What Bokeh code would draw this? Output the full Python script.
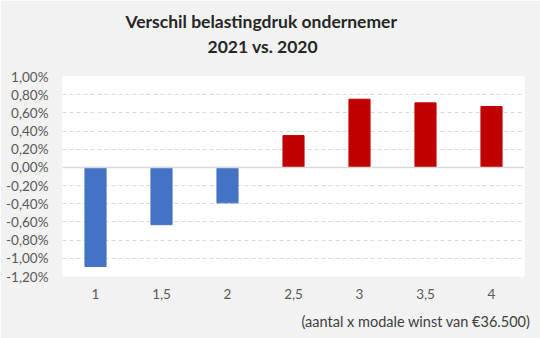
from bokeh.plotting import figure
from bokeh.models import FixedTicker, CustomJSTickFormatter, Title, ColumnDataSource, FactorRange, Range1d, Span
from bokeh.embed import file_html
from bokeh.resources import INLINE

categories = ["1", "1,5", "2", "2,5", "3", "3,5", "4"]
values = [-1.09, -0.63, -0.39, 0.35, 0.75, 0.71, 0.67]
y_ticks = [-1.2, -1.0, -0.8, -0.6, -0.4, -0.2, 0.0, 0.2, 0.4, 0.6, 0.8, 1.0]
title_lines = ["Verschil belastingdruk ondernemer", "2021 vs. 2020"]
footnote = "(aantal x modale winst van €36.500)"

BLUE = "#4472C4"
RED = "#C00000"
FONT = "Lato"

colors = [BLUE if v < 0 else RED for v in values]
src = ColumnDataSource(dict(x=categories, top=values, color=colors))

p = figure(width=540, height=338, output_backend="svg", toolbar_location=None,
           x_range=FactorRange(*categories, range_padding=0),
           y_range=Range1d(-1.2, 1.0),
           min_border_left=62, min_border_right=16, min_border_top=76, min_border_bottom=60)
p.background_fill_color = "white"
p.border_fill_color = "#F2F2F2"
p.outline_line_color = None

p.vbar(x="x", top="top", bottom=0, width=0.32, color="color", source=src)

# grid
p.xgrid.grid_line_color = None
p.ygrid.ticker = FixedTicker(ticks=y_ticks)
p.ygrid.grid_line_color = "#D9D9D9"
p.ygrid.grid_line_dash = "4 3"
p.ygrid.grid_line_width = 1
p.add_layout(Span(location=0, dimension="width", line_color="#D9D9D9", line_width=1.5))

# axes
p.yaxis.ticker = FixedTicker(ticks=y_ticks)
p.yaxis.formatter = CustomJSTickFormatter(code="return tick.toFixed(2).replace('.', ',') + '%';")
for ax in (p.xaxis[0], p.yaxis[0]):
    ax.axis_line_color = None
    ax.major_tick_line_color = None
    ax.minor_tick_line_color = None
    ax.major_label_text_font = FONT
    ax.major_label_text_font_size = "13.5px"
    ax.major_label_text_color = "#595959"
p.yaxis.major_label_standoff = 8
p.xaxis.major_label_standoff = 6

# titles (subtitle added first so it sits closest to the plot)
p.add_layout(Title(text=title_lines[1], align="left", offset=145, standoff=40,
                   text_font=FONT, text_font_style="bold", text_font_size="17.5px",
                   text_color="#262626"), "above")
p.add_layout(Title(text=title_lines[0], align="left", offset=63, standoff=-36,
                   text_font=FONT, text_font_style="bold", text_font_size="17.5px",
                   text_color="#262626"), "above")
p.add_layout(Title(text=footnote, align="right", offset=-6, standoff=18,
                   text_font=FONT, text_font_style="normal", text_font_size="14.5px",
                   text_color="#404040"), "below")

open("out.html", "w").write(file_html(p, INLINE))
